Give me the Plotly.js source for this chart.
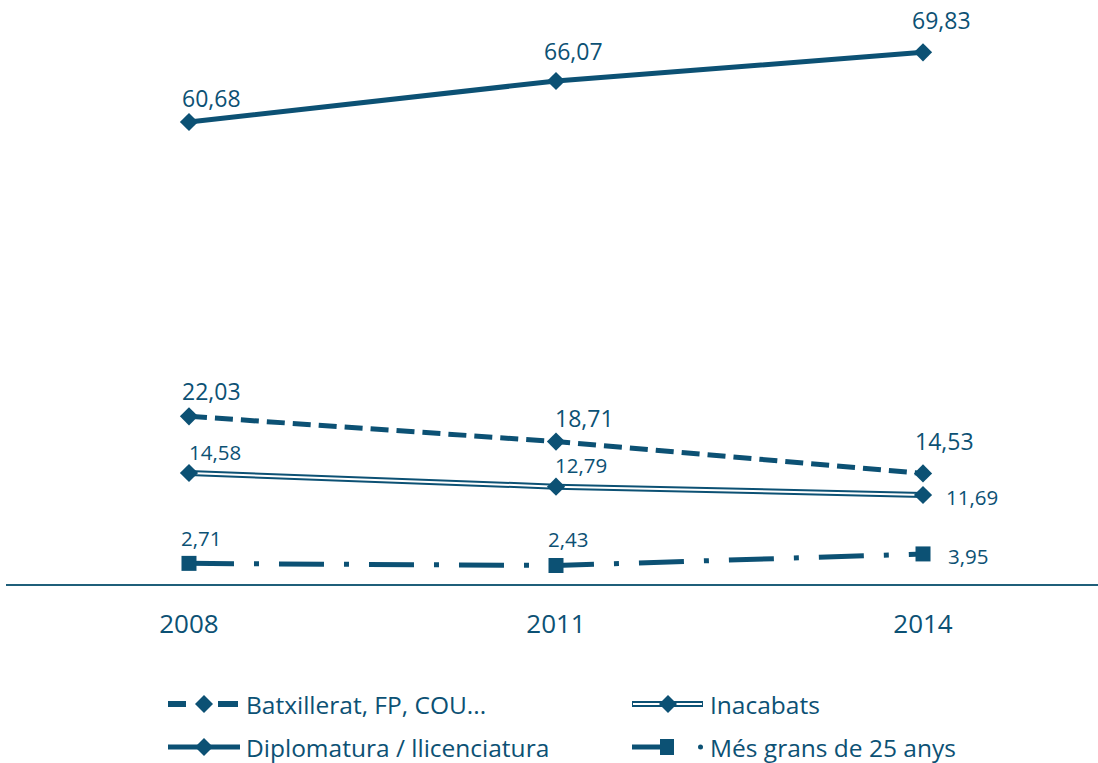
<!DOCTYPE html>
<html>
<head>
<meta charset="utf-8">
<script src="https://cdn.plot.ly/plotly-3.0.1.min.js"></script>
<style>
  html, body { margin: 0; padding: 0; background: #fff; }
  #chart { width: 1098px; height: 763px; }
</style>
</head>
<body>
<div id="chart"></div>
<script>
// Percentatges per nivell d'estudis, 2008-2014
const years = ['2008', '2011', '2014'];
const batxillerat = [22.03, 18.71, 14.53];
const inacabats = [14.58, 12.79, 11.69];
const diplomatura = [60.68, 66.07, 69.83];
const mesGrans = [2.71, 2.43, 3.95];
const seriesNames = ['Batxillerat, FP, COU...', 'Inacabats', 'Diplomatura / llicenciatura', 'Més grans de 25 anys'];

const BLUE = '#0c5174';
const FONT = '"Open Sans", sans-serif';
const W = 1098, H = 763;
const M = { l: 6, r: 0, t: 13, b: 179 };

// pixel -> paper helpers for the hand-drawn legend
const px = x => (x - M.l) / (W - M.l - M.r);
const py = y => (H - M.b - y) / (H - M.t - M.b);

const fmt = v => v.toFixed(2).replace('.', ',');

const traces = [
  {
    x: years, y: diplomatura, name: seriesNames[2], type: 'scatter', mode: 'lines+markers',
    line: { color: BLUE, width: 5 },
    marker: { symbol: 'diamond', size: 14, color: BLUE }
  },
  {
    x: years, y: batxillerat, name: seriesNames[0], type: 'scatter', mode: 'lines+markers',
    line: { color: BLUE, width: 5, dash: '18px,8px' },
    marker: { symbol: 'diamond', size: 14, color: BLUE }
  },
  // double line: dark outer stroke with a white core
  {
    x: years, y: inacabats, name: seriesNames[1], type: 'scatter', mode: 'lines',
    line: { color: BLUE, width: 6 }
  },
  {
    x: years, y: inacabats, name: seriesNames[1], type: 'scatter', mode: 'lines+markers',
    line: { color: '#ffffff', width: 2 },
    marker: { symbol: 'diamond', size: 14, color: BLUE }
  },
  {
    x: years, y: mesGrans, name: seriesNames[3], type: 'scatter', mode: 'lines+markers',
    line: { color: BLUE, width: 5, dash: '45px,20px,5px,20px' },
    marker: { symbol: 'square', size: 15, color: BLUE }
  }
];

// value labels: series, font size, pixel offsets per point
const labelSets = [
  { data: diplomatura, size: 23, off: [[23, 24], [17, 30], [18, 32]] },
  { data: batxillerat, size: 23, off: [[23, 25], [28, 24], [21, 32]] },
  { data: inacabats, size: 20.5, off: [[26, 21], [25, 22], [49, -2]] },
  { data: mesGrans, size: 20.5, off: [[12, 25], [12, 27], [45, -2]] }
];

const annotations = [];
labelSets.forEach(set => {
  set.data.forEach((v, i) => {
    annotations.push({
      x: i, y: v, xref: 'x', yref: 'y', text: fmt(v), showarrow: false,
      xanchor: 'center', yanchor: 'middle',
      xshift: set.off[i][0], yshift: set.off[i][1],
      font: { family: FONT, size: set.size, color: BLUE }
    });
  });
});

// legend
const shapes = [];
const diamond = (cx, cy, r) => {
  const x0 = px(cx - r), x1 = px(cx + r), xc = px(cx);
  const y0 = py(cy - r), y1 = py(cy + r), yc = py(cy);
  return `M ${x0} ${yc} L ${xc} ${y0} L ${x1} ${yc} L ${xc} ${y1} Z`;
};
const seg = (xa, xb, y, w, color) => ({
  type: 'line', xref: 'paper', yref: 'paper',
  x0: px(xa), x1: px(xb), y0: py(y), y1: py(y),
  line: { color: color, width: w }
});
const fill = (path) => ({
  type: 'path', xref: 'paper', yref: 'paper', path: path,
  fillcolor: BLUE, line: { color: BLUE, width: 0 }
});

const row1 = 704, row2 = 747;
// Batxillerat
shapes.push(seg(168, 186, row1, 6, BLUE));
shapes.push(seg(218, 238, row1, 6, BLUE));
shapes.push(fill(diamond(204, row1, 9)));
// Diplomatura
shapes.push(seg(168, 240, row2, 5, BLUE));
shapes.push(fill(diamond(204, row2, 9)));
// Inacabats
shapes.push(seg(632, 703, row1, 6, BLUE));
shapes.push(seg(633, 702, row1, 2, '#ffffff'));
shapes.push(fill(diamond(668, row1, 9)));
// Més grans
shapes.push(seg(632, 662, row2, 5, BLUE));
shapes.push({
  type: 'rect', xref: 'paper', yref: 'paper',
  x0: px(660), x1: px(674), y0: py(row2 - 8), y1: py(row2 + 8),
  fillcolor: BLUE, line: { width: 0 }
});
shapes.push({
  type: 'circle', xref: 'paper', yref: 'paper',
  x0: px(698), x1: px(703), y0: py(row2 - 2.5), y1: py(row2 + 2.5),
  fillcolor: BLUE, line: { width: 0 }
});

const legendText = [
  { text: seriesNames[0], x: 244, y: row1 },
  { text: seriesNames[2], x: 244, y: row2 },
  { text: seriesNames[1], x: 708, y: row1 },
  { text: seriesNames[3], x: 708, y: row2 }
];
legendText.forEach(t => annotations.push({
  x: px(t.x), y: py(t.y), xref: 'paper', yref: 'paper', text: t.text, showarrow: false,
  xanchor: 'left', yanchor: 'middle',
  font: { family: FONT, size: 24.5, color: BLUE }
}));

const layout = {
  width: W, height: H,
  margin: M,
  paper_bgcolor: '#ffffff', plot_bgcolor: '#ffffff',
  showlegend: false,
  font: { family: FONT, color: BLUE },
  xaxis: {
    type: 'category', range: [-0.4986, 2.4768],
    showline: true, linecolor: '#1f5f7a', linewidth: 1.5,
    showgrid: false, zeroline: false, ticks: '',
    ticklabelstandoff: 16,
    tickfont: { family: FONT, size: 26, color: BLUE }
  },
  yaxis: { range: [0, 75], visible: false, showgrid: false, zeroline: false },
  annotations: annotations,
  shapes: shapes
};

Plotly.newPlot('chart', traces, layout, { displayModeBar: false, staticPlot: true });
</script>
</body>
</html>
